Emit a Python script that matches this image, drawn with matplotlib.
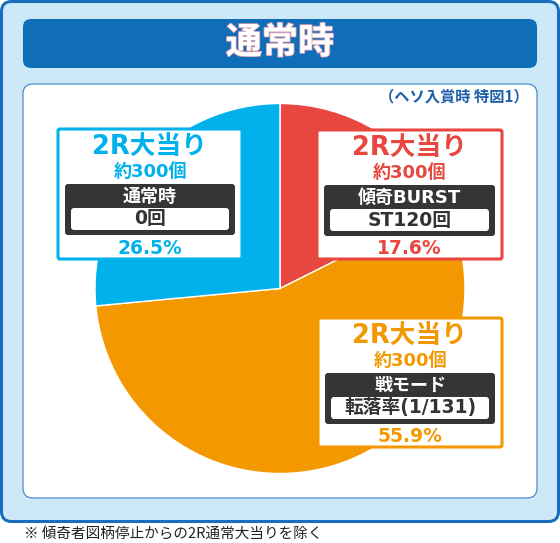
import matplotlib
matplotlib.use("Agg")
import matplotlib.pyplot as plt
from matplotlib.patches import FancyBboxPatch
import matplotlib.patheffects as pe

plt.rcParams['font.family'] = ['Noto Sans CJK JP', 'DejaVu Sans']
LATIN_CJK = ['DejaVu Sans', 'Noto Sans CJK JP']

W, H = 560, 543

# data (clockwise from the top)
shares = [17.6, 55.9, 26.5]
colors = ['#e8473f', '#f39800', '#00b1ec']
bonus = ['2R大当り', '2R大当り', '2R大当り']
balls = ['約300個', '約300個', '約300個']
modes = ['傾奇BURST', '戦モード', '通常時']
spins = ['ST120回', '転落率(1/131)', '0回']
title = '通常時'
note = '（ヘソ入賞時 特図1）'
footnote = '※ 傾奇者図柄停止からの2R通常大当りを除く'

# label box placement in pixels (x0, top, x1, bottom), same order as shares
boxes = [(317, 130, 502, 259), (318, 318, 502, 447), (58, 129, 242, 259)]


def Y(py):
    return H - py


def rbox(ax, x0, top, x1, bottom, fc, ec='none', lw=0, r=4, z=2):
    p = FancyBboxPatch((x0, Y(bottom)), x1 - x0, bottom - top,
                       boxstyle=f"round,pad=0,rounding_size={r}",
                       fc=fc, ec=ec, lw=lw, zorder=z)
    ax.add_patch(p)


fig = plt.figure(figsize=(W / 100, H / 100), dpi=100)
ax = fig.add_axes([0, 0, 1, 1])

# frame
rbox(ax, 1.5, 1.5, 558.5, 521.5, '#cde9f7', '#1a6fbc', 2.2, r=10, z=0)
rbox(ax, 23, 19, 537, 68, '#106db8', r=8, z=1)
rbox(ax, 23, 84, 537, 498, 'white', '#3c7fc6', 0.8, r=10, z=1)

ax.text(280, Y(43), title, color='white', fontsize=26, fontweight='bold',
        ha='center', va='center', zorder=3,
        path_effects=[pe.withStroke(linewidth=1.2, foreground='#d9a0b4')])
ax.text(529, Y(96), note, color='#1f5fa8', fontsize=11, fontweight='bold',
        ha='right', va='center', zorder=3)

ax.pie(shares, colors=colors, startangle=90, counterclock=False,
       center=(280, Y(288.5)), radius=185,
       wedgeprops=dict(edgecolor='white', linewidth=1, zorder=1.5))

for i, (x0, top, x1, bottom) in enumerate(boxes):
    c = colors[i]
    cx = (x0 + x1) / 2
    rbox(ax, x0, top, x1, bottom, 'white', c, 2.2, r=2, z=4)
    ax.text(cx, Y(top + 18.5), bonus[i], color=c, fontsize=18.5,
            family=LATIN_CJK, fontweight='bold', ha='center', va='center',
            zorder=5)
    ax.text(cx, Y(top + 43), balls[i], color=c, fontsize=13,
            family=LATIN_CJK, fontweight='bold', ha='center', va='center',
            zorder=5)
    rbox(ax, x0 + 7, top + 55, x1 - 7, top + 106, '#363535', r=3, z=5)
    ax.text(cx, Y(top + 68), modes[i], color='white', fontsize=13,
            family=LATIN_CJK, fontweight='bold', ha='center', va='center',
            zorder=6)
    rbox(ax, x0 + 13, top + 79, x1 - 13, top + 101, 'white', r=3, z=6)
    ax.text(cx, Y(top + 90), spins[i], color='#333333', fontsize=13.5,
            family=LATIN_CJK, fontweight='bold', ha='center', va='center',
            zorder=7)
    ax.text(cx, Y(top + 119), f"{shares[i]}%", color=c, fontsize=13.5,
            family=LATIN_CJK, fontweight='bold', ha='center', va='center',
            zorder=5)

ax.text(24, Y(535), footnote, color='#222222', fontsize=10.5,
        ha='left', va='center')

ax.set_xlim(0, W)
ax.set_ylim(0, H)
ax.set_aspect('auto')
ax.axis('off')

fig.savefig('out.png', dpi=100)
